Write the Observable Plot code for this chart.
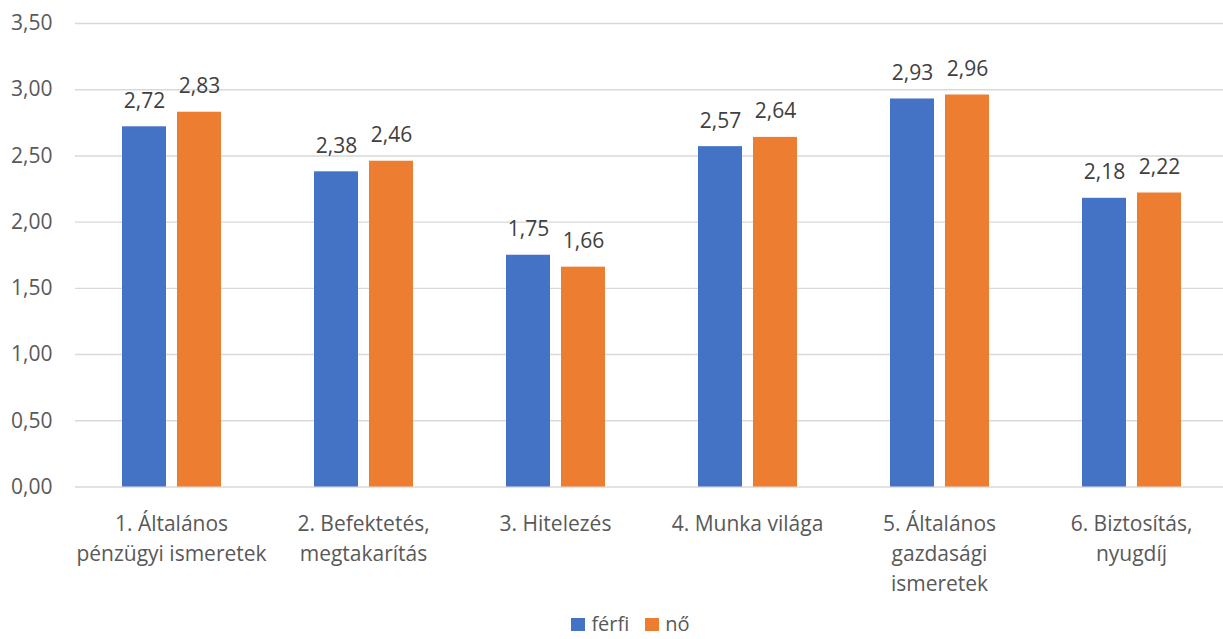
<!DOCTYPE html>
<html>
<head>
<meta charset="utf-8">
<script src="https://cdn.jsdelivr.net/npm/d3@7"></script>
<script src="https://cdn.jsdelivr.net/npm/@observablehq/plot@0.6"></script>
<style>
  html, body { margin: 0; padding: 0; background: #fff; overflow: hidden; }
  body { width: 1223px; height: 639px; font-family: "Open Sans", sans-serif; }
  #legend { display: flex; justify-content: center; align-items: center; height: 22px; margin-top: 3px; padding-left: 38px; font-size: 20px; line-height: 22px; color: #595959; }
  .sw { display: inline-block; width: 14px; height: 13px; margin-right: 6px; }
  .item { display: flex; align-items: center; margin: 0 8px; line-height: 22px; }
</style>
</head>
<body>
<div id="chart"></div>
<div id="legend"></div>
<script>
const categories = [
  "1. Általános\npénzügyi ismeretek",
  "2. Befektetés,\nmegtakarítás",
  "3. Hitelezés",
  "4. Munka világa",
  "5. Általános\ngazdasági\nismeretek",
  "6. Biztosítás,\nnyugdíj"
];
const series = ["férfi", "nő"];
const ferfi = [2.72, 2.38, 1.75, 2.57, 2.93, 2.18];
const no = [2.83, 2.46, 1.66, 2.64, 2.96, 2.22];
const yTicks = [0, 0.5, 1, 1.5, 2, 2.5, 3, 3.5];
const colors = ["#4472C4", "#ED7D31"];

const data = [];
categories.forEach((c, i) => {
  data.push({cat: c, s: series[0], v: ferfi[i]});
  data.push({cat: c, s: series[1], v: no[i]});
});
const fmt = v => d3.format(".2f")(v).replace(".", ",");

const plot = Plot.plot({
  width: 1223,
  height: 610,
  marginLeft: 75,
  marginRight: -4,
  marginTop: 23,
  marginBottom: 123.5,
  style: {fontFamily: "'Open Sans', sans-serif", fontSize: "21px", overflow: "visible"},
  fx: {domain: categories, padding: 0, axis: null},
  x: {domain: series, paddingInner: 0.2, paddingOuter: 0.845, axis: null},
  y: {domain: [0, 3.5], ticks: yTicks, tickFormat: fmt, tickSize: 0, tickPadding: 23, label: null},
  color: {domain: series, range: colors},
  marks: [
    Plot.ruleY(yTicks, {stroke: "#d9d9d9", strokeWidth: 1.4}),
    Plot.axisY({ticks: yTicks, tickFormat: fmt, tickSize: 0, tickPadding: 23, fill: "#595959", fontSize: 21, label: null}),
    Plot.barY(data, {fx: "cat", x: "s", y: "v", fill: "s"}),
    Plot.text(data, {fx: "cat", x: "s", y: "v", text: d => fmt(d.v), lineAnchor: "bottom", dy: -19, fill: "#404040", fontSize: 21}),
    Plot.text(categories, {fx: d => d, text: d => d, frameAnchor: "bottom", lineAnchor: "top", dy: 22.6, lineHeight: 1.43, fill: "#595959", fontSize: 21})
  ]
});
document.getElementById("chart").appendChild(plot);

const legend = document.getElementById("legend");
series.forEach((s, i) => {
  const item = document.createElement("span");
  item.className = "item";
  const sw = document.createElement("span");
  sw.className = "sw";
  sw.style.background = colors[i];
  item.appendChild(sw);
  item.appendChild(document.createTextNode(s));
  legend.appendChild(item);
});
</script>
</body>
</html>
